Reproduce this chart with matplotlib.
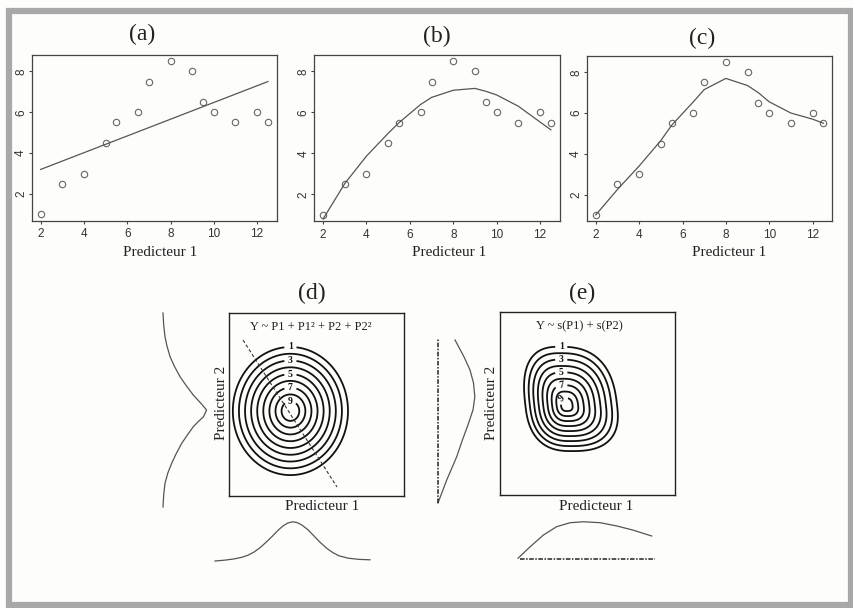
import numpy as np
import matplotlib
matplotlib.use("Agg")
import matplotlib.pyplot as plt
from matplotlib.patches import Rectangle

# data
pred1 = [2, 3, 4, 5, 5.5, 6.5, 7, 8, 9, 9.5, 10, 11, 12, 12.5]
resp = [1, 2.5, 3, 4.5, 5.5, 6, 7.5, 8.5, 8, 6.5, 6, 5.5, 6, 5.5]

# (a) straight line fit
lin_x = [2, 12.5]
lin_y = [3.2, 7.5]
# (b) quadratic fit, read at the predictor values
quad_y = [0.8, 2.53, 3.87, 4.98, 5.5, 6.39, 6.73, 7.08, 7.17, 7.03, 6.85, 6.3, 5.53, 5.15]
# (c) smooth fit
smooth_y = [1.0, 2.25, 3.4, 4.65, 5.4, 6.55, 7.15, 7.7, 7.35, 7.0, 6.55, 6.0, 5.7, 5.5]

x_ticks = [2, 4, 6, 8, 10, 12]
y_ticks = [2, 4, 6, 8]

# contour levels for (d) and (e): odd ones carry a label
label_levels = [1, 3, 5, 7, 9]
plain_levels = [2, 4, 6, 8]

# (d) quadratic surface: centre, outer ring half-widths, peak and slope
d_centre = (0.351, 0.463)
d_radius = (0.329, 0.349)
d_peak, d_slope = 10.45, 9.45
# dashed axis line of (d)
d_axis_p1 = [0.08, 0.617]
d_axis_p2 = [0.85, 0.049]

# (e) additive smooth surface: centre, half-widths left/right/bottom/top, lean
e_centre = (0.378, 0.49)
e_radius = (0.233, 0.291, 0.25, 0.32)
e_peak, e_slope, e_pow, e_shape = 10.15, 9.15, 1.0, 2.6
e_lean = 0.12

# marginal effect curves (position along predictor, relative effect)
dB_p = [0, 0.06, 0.12, 0.17, 0.21, 0.25, 0.29, 0.33, 0.37, 0.41, 0.44, 0.47, 0.50,
        0.53, 0.56, 0.60, 0.64, 0.68, 0.72, 0.76, 0.80, 0.86, 0.93, 1.0]
dB_e = [0.0, 0.02, 0.05, 0.09, 0.14, 0.22, 0.33, 0.47, 0.62, 0.78, 0.88, 0.95, 0.98,
        0.96, 0.90, 0.78, 0.62, 0.46, 0.32, 0.21, 0.13, 0.07, 0.04, 0.03]
dL_p = [0.0, 0.06, 0.122, 0.175, 0.225, 0.275, 0.328, 0.37, 0.414, 0.44, 0.465, 0.5,
        0.53, 0.577, 0.625, 0.672, 0.725, 0.775, 0.83, 0.878, 0.94, 1.0]
dL_e = [0.0, 0.015, 0.045, 0.11, 0.197, 0.30, 0.425, 0.55, 0.689, 0.80, 0.92, 0.99,
        0.88, 0.689, 0.53, 0.386, 0.26, 0.16, 0.09, 0.045, 0.015, 0.0]
eL_p = [0.0, 0.139, 0.28, 0.382, 0.473, 0.564, 0.642, 0.727, 0.806, 0.887, 0.988]
eL_e = [0.0, 0.235, 0.505, 0.66, 0.81, 0.946, 0.995, 0.96, 0.865, 0.70, 0.46]
eB_p = [0.0, 0.088, 0.185, 0.282, 0.38, 0.477, 0.6, 0.72, 0.84, 0.976]
eB_e = [0.02, 0.32, 0.63, 0.85, 0.955, 0.98, 0.955, 0.87, 0.76, 0.605]

W, H = 854, 608
serif = "Liberation Serif"
sans = "Liberation Sans"
fig = plt.figure(figsize=(W / 100, H / 100), dpi=100)
fig.patch.set_facecolor("#fdfdfb")


def px_axes(l, t, r, b):
    return fig.add_axes([l / W, 1 - b / H, (r - l) / W, (b - t) / H])


def px_text(x, y, s, size, rot=0):
    fig.text(x / W, 1 - y / H, s, ha="center", va="center", rotation=rot,
             fontfamily=serif, fontsize=size, color="#222")


# outer frame
fig.patches.append(Rectangle((8.5 / W, 3 / H), 842.5 / W, 594.5 / H,
                             transform=fig.transFigure, fill=False,
                             edgecolor="#a8a8a8", linewidth=4.5))

# top row
top_boxes = [(31.6, 55, 277, 220.5), (314, 55, 560, 221), (586.7, 56, 832.5, 221)]
fits = [(lin_x, lin_y), (pred1, quad_y), (pred1, smooth_y)]
titles = [("(a)", 141.7, 34), ("(b)", 436.7, 36), ("(c)", 701.7, 38)]
xlab_x = [160, 449, 729]

for box, (fx, fy), (tt, tx, ty), lx in zip(top_boxes, fits, titles, xlab_x):
    ax = px_axes(*box)
    ax.set_facecolor("none")
    ax.plot(pred1, resp, "o", mfc="none", mec="#666", ms=4.6, mew=0.8)
    ax.plot(fx, fy, color="#555", lw=0.9)
    ax.set_xlim(1.58, 12.92)
    ax.set_ylim(0.7, 8.8)
    ax.set_xticks(x_ticks)
    ax.set_yticks(y_ticks)
    ax.tick_params(length=2.5, width=0.8, color="#444", labelsize=8.5,
                   labelcolor="#333")
    ax.tick_params(axis="x", pad=3.2)
    ax.tick_params(axis="y", pad=0.8)
    for lab in ax.get_xticklabels() + ax.get_yticklabels():
        lab.set_fontfamily(sans)
    for lab in ax.get_yticklabels():
        lab.set_rotation(90)
        lab.set_va("center")
    for sp in ax.spines.values():
        sp.set_linewidth(0.9)
        sp.set_color("#444")
    px_text(tx, ty, tt, 17)
    px_text(lx, 252, "Predicteur 1", 11)

# bottom row: contour boxes
gx, gy = np.meshgrid(np.linspace(0, 1, 500), np.linspace(0, 1, 500))

axd = px_axes(229, 312.5, 404, 496)
dist_d = np.sqrt(((gx - d_centre[0]) / d_radius[0]) ** 2 +
                 ((gy - d_centre[1]) / d_radius[1]) ** 2)
zd = d_peak - d_slope * dist_d

axe = px_axes(500, 312, 675, 495)
cx_e = e_centre[0] + e_lean * (e_centre[1] - gy)
dx = np.where(gx >= cx_e, (gx - cx_e) / e_radius[1], (cx_e - gx) / e_radius[0])
dy = np.where(gy >= e_centre[1], (gy - e_centre[1]) / e_radius[3],
              (e_centre[1] - gy) / e_radius[2])
dist_e = (dx ** e_shape + dy ** e_shape) ** (1 / e_shape)
ze = e_peak - e_slope * dist_e ** e_pow

for ax, z in [(axd, zd), (axe, ze)]:
    ax.set_xlim(0, 1)
    ax.set_ylim(0, 1)
    ax.set_xticks([])
    ax.set_yticks([])
    ax.set_facecolor("none")
    for sp in ax.spines.values():
        sp.set_linewidth(1.0)
        sp.set_color("#222")

pos_d = [(d_centre[0], d_centre[1] + d_radius[1] * (d_peak - k) / d_slope)
         for k in label_levels]
pos_e = [(0.35, e_centre[1] + e_radius[3] * ((e_peak - k) / e_slope) ** (1 / e_pow))
         for k in label_levels]

for ax, z, pos in [(axd, zd, pos_d), (axe, ze, pos_e)]:
    ax.contour(gx, gy, z, levels=plain_levels, colors="#111", linewidths=1.3)
    cs = ax.contour(gx, gy, z, levels=label_levels, colors="#111", linewidths=1.3)
    for t in ax.clabel(cs, fmt="%d", fontsize=7, inline=True,
                       inline_spacing=3, manual=pos):
        t.set_fontfamily(serif)
        t.set_fontweight("bold")

axd.plot(d_axis_p1, d_axis_p2, color="#333", lw=0.8, ls=(0, (3, 2)))
axd.text(0.47, 0.92, "Y ~ P1 + P1² + P2 + P2²", ha="center", va="center",
         fontfamily=serif, fontsize=9, color="#222")
axe.text(0.455, 0.92, "Y ~ s(P1) + s(P2)", ha="center", va="center",
         fontfamily=serif, fontsize=9, color="#222")

px_text(311.7, 293, "(d)", 17)
px_text(581.7, 293, "(e)", 17)
px_text(322.5, 507, "Predicteur 1", 11)
px_text(596, 507, "Predicteur 1", 11)
px_text(221.7, 403, "Predicteur 2", 11, rot=90)
px_text(491.7, 403, "Predicteur 2", 11, rot=90)


# marginal effect curves
def marg_axes(l, t, r, b):
    ax = px_axes(l, t, r, b)
    ax.set_xlim(0, 1)
    ax.set_ylim(0, 1)
    ax.axis("off")
    return ax


ax = marg_axes(215, 521, 370, 561)
ax.plot(dB_p, dB_e, color="#555", lw=0.9, clip_on=False)

ax = marg_axes(163, 313, 207, 507)
ax.plot(dL_e, dL_p, color="#555", lw=0.9, clip_on=False)

ax = marg_axes(438, 338, 475, 503)
ax.plot(eL_e, eL_p, color="#555", lw=0.9, clip_on=False)
ax.plot([0, 0], [0, 1], color="#222", lw=1.1, ls=(0, (3, 1, 1, 1)), clip_on=False)

ax = marg_axes(518, 521, 655, 559)
ax.plot(eB_p, eB_e, color="#555", lw=0.9, clip_on=False)
ax.plot([0.015, 1], [0, 0], color="#222", lw=1.1, ls=(0, (3, 1, 1, 1)), clip_on=False)

fig.savefig("out.png", dpi=100, facecolor=fig.get_facecolor())
